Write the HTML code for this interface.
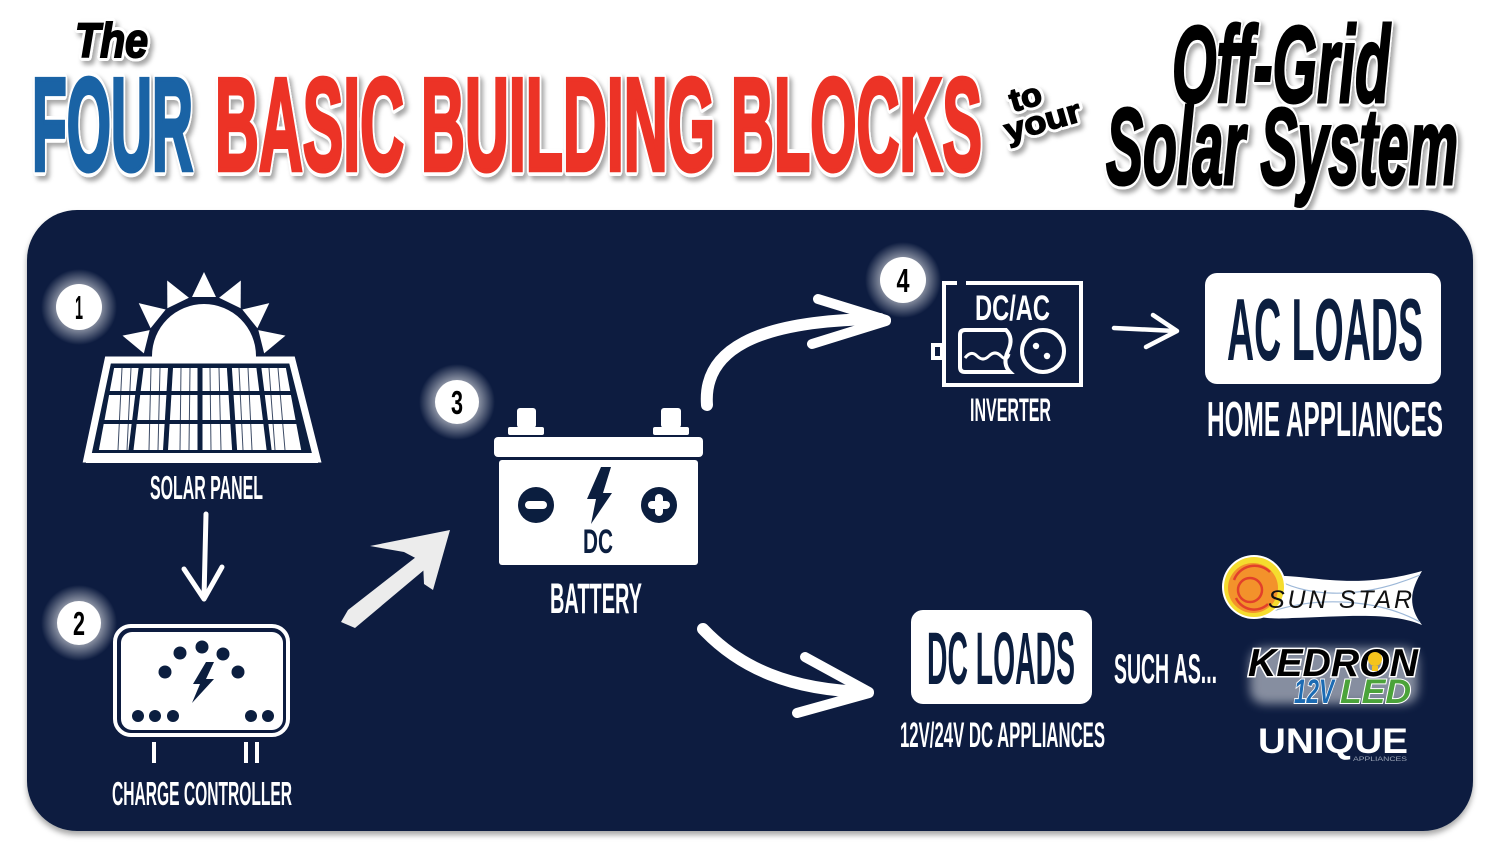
<!DOCTYPE html>
<html>
<head>
<meta charset="utf-8">
<style>
  html,body{margin:0;padding:0;background:#fff;}
  svg{display:block;}
  text{font-family:"Liberation Sans", Arial, sans-serif;}
</style>
</head>
<body>
<svg width="1500" height="859" viewBox="0 0 1500 859" xmlns="http://www.w3.org/2000/svg">
  <defs>
    <filter id="tshadow" x="-10%" y="-20%" width="130%" height="150%">
      <feDropShadow dx="3" dy="4" stdDeviation="2.5" flood-color="#000" flood-opacity="0.35"/>
    </filter>
    <filter id="pshadow" x="-5%" y="-5%" width="110%" height="115%">
      <feDropShadow dx="0" dy="4" stdDeviation="3" flood-color="#000" flood-opacity="0.35"/>
    </filter>
    <filter id="wglow" x="-20%" y="-50%" width="140%" height="200%">
      <feGaussianBlur stdDeviation="5"/>
    </filter>
    <radialGradient id="glow">
      <stop offset="0.5" stop-color="#ffffff" stop-opacity="0.6"/>
      <stop offset="1" stop-color="#ffffff" stop-opacity="0"/>
    </radialGradient>
  </defs>

  <!-- ================= TITLE ================= -->
  <g filter="url(#tshadow)" font-weight="bold">
    <text x="75" y="57" font-size="48" font-style="italic" textLength="73" lengthAdjust="spacingAndGlyphs" fill="#fff" stroke="#fff" stroke-width="8" stroke-linejoin="round">The</text>
    <g fill="#fff" stroke="#fff" stroke-width="12" stroke-linejoin="round" font-size="132">
      <text x="32" y="170" textLength="161" lengthAdjust="spacingAndGlyphs">FOUR</text>
      <text x="215" y="170" textLength="189" lengthAdjust="spacingAndGlyphs">BASIC</text>
      <text x="421" y="170" textLength="294" lengthAdjust="spacingAndGlyphs">BUILDING</text>
      <text x="731" y="170" textLength="251" lengthAdjust="spacingAndGlyphs">BLOCKS</text>
    </g>
    <g fill="#fff" stroke="#fff" stroke-width="9" stroke-linejoin="round" font-size="109" font-style="italic">
      <text x="1172" y="102" textLength="218" lengthAdjust="spacingAndGlyphs">Off-Grid</text>
      <text x="1106" y="184" textLength="352" lengthAdjust="spacingAndGlyphs">Solar System</text>
    </g>
    <g fill="#fff" stroke="#fff" stroke-width="7" stroke-linejoin="round" font-size="32">
      <text transform="translate(1013,112) rotate(-16)" textLength="32" lengthAdjust="spacingAndGlyphs">to</text>
      <text transform="translate(1008,142) rotate(-16)" textLength="78" lengthAdjust="spacingAndGlyphs">your</text>
    </g>
  </g>
  <g font-weight="bold">
    <text x="75" y="57" font-size="48" font-style="italic" textLength="73" lengthAdjust="spacingAndGlyphs" fill="#000" stroke="#000" stroke-width="2">The</text>
    <text x="32" y="170" font-size="132" textLength="161" lengthAdjust="spacingAndGlyphs" fill="#1a63a5" stroke="#1a63a5" stroke-width="4.5">FOUR</text>
    <g fill="#ec3326" stroke="#ec3326" stroke-width="4.5" font-size="132">
      <text x="215" y="170" textLength="189" lengthAdjust="spacingAndGlyphs">BASIC</text>
      <text x="421" y="170" textLength="294" lengthAdjust="spacingAndGlyphs">BUILDING</text>
      <text x="731" y="170" textLength="251" lengthAdjust="spacingAndGlyphs">BLOCKS</text>
    </g>
    <g fill="#000" stroke="#000" stroke-width="3" font-size="109" font-style="italic">
      <text x="1172" y="102" textLength="218" lengthAdjust="spacingAndGlyphs">Off-Grid</text>
      <text x="1106" y="184" textLength="352" lengthAdjust="spacingAndGlyphs">Solar System</text>
    </g>
    <g fill="#000" stroke="#000" stroke-width="1.5" font-size="32">
      <text transform="translate(1013,112) rotate(-16)" textLength="32" lengthAdjust="spacingAndGlyphs">to</text>
      <text transform="translate(1008,142) rotate(-16)" textLength="78" lengthAdjust="spacingAndGlyphs">your</text>
    </g>
  </g>

  <!-- ================= PANEL ================= -->
  <rect x="27" y="210" width="1446" height="621" rx="50" ry="50" fill="#0b1e3f" filter="url(#pshadow)"/>

  <!-- Badges -->
  <g>
    <circle cx="79" cy="307" r="38" fill="url(#glow)"/>
    <circle cx="79" cy="307" r="23" fill="#fff"/>
    <circle cx="79" cy="623" r="38" fill="url(#glow)"/>
    <circle cx="79" cy="623" r="22" fill="#fff"/>
    <circle cx="457" cy="402" r="38" fill="url(#glow)"/>
    <circle cx="457" cy="402" r="22" fill="#fff"/>
    <circle cx="903" cy="280" r="38" fill="url(#glow)"/>
    <circle cx="903" cy="280" r="23" fill="#fff"/>
    <g fill="#000" font-size="33" font-weight="bold" text-anchor="middle">
      <text x="79" y="319" textLength="8" lengthAdjust="spacingAndGlyphs">1</text>
      <text x="79" y="635" textLength="12" lengthAdjust="spacingAndGlyphs">2</text>
      <text x="457" y="414" textLength="12" lengthAdjust="spacingAndGlyphs">3</text>
      <text x="903" y="292" textLength="13" lengthAdjust="spacingAndGlyphs">4</text>
    </g>
  </g>

  <!-- ================= SOLAR PANEL ================= -->
  <g fill="#fff">
    <circle cx="204" cy="356" r="52"/>
    <g transform="translate(204,356)">
      <polygon points="-12,-59 12,-59 0,-84" transform="rotate(-76)"/>
      <polygon points="-12,-59 12,-59 0,-84" transform="rotate(-51)"/>
      <polygon points="-12,-59 12,-59 0,-84" transform="rotate(-26)"/>
      <polygon points="-12,-59 12,-59 0,-84"/>
      <polygon points="-12,-59 12,-59 0,-84" transform="rotate(26)"/>
      <polygon points="-12,-59 12,-59 0,-84" transform="rotate(51)"/>
      <polygon points="-12,-59 12,-59 0,-84" transform="rotate(76)"/>
    </g>
  </g>
  <polygon points="108,360 292,360 317,459 87,459" fill="#0b1e3f" stroke="#fff" stroke-width="7" stroke-linejoin="miter"/>
  <rect x="86" y="453" width="232" height="10" fill="#fff"/>
  <g fill="#fff">
    <polygon points="114.1,368 138.6,368 135.7,391 109.8,391"/>
    <polygon points="143.6,368 168.0,368 166.6,391 140.7,391"/>
    <polygon points="173.0,368 197.5,368 197.5,391 171.6,391"/>
    <polygon points="202.5,368 226.9,368 228.4,391 202.5,391"/>
    <polygon points="231.9,368 256.4,368 259.3,391 233.4,391"/>
    <polygon points="261.4,368 285.9,368 290.2,391 264.3,391"/>
    <polygon points="109.1,395 135.2,395 132.2,420 104.5,420"/>
    <polygon points="140.2,395 166.4,395 164.9,420 137.2,420"/>
    <polygon points="171.4,395 197.5,395 197.5,420 169.9,420"/>
    <polygon points="202.5,395 228.6,395 230.2,420 202.5,420"/>
    <polygon points="233.6,395 259.8,395 262.9,420 235.2,420"/>
    <polygon points="264.8,395 290.9,395 295.6,420 267.9,420"/>
    <polygon points="103.7,424 131.6,424 128.5,450 98.9,450"/>
    <polygon points="136.6,424 164.6,424 163.0,450 133.5,450"/>
    <polygon points="169.6,424 197.5,424 197.5,450 168.0,450"/>
    <polygon points="202.5,424 230.4,424 232.1,450 202.5,450"/>
    <polygon points="235.4,424 263.4,424 266.6,450 237.1,450"/>
    <polygon points="268.4,424 296.3,424 301.2,450 271.6,450"/>
  </g>
  <!-- cell stripes -->
  <g stroke="#0b1e3f" stroke-width="1" opacity="0.8">
    <line x1="122" y1="368" x2="118" y2="450"/><line x1="131" y1="368" x2="127" y2="450"/>
    <line x1="151" y1="368" x2="149" y2="450"/><line x1="160" y1="368" x2="158" y2="450"/>
    <line x1="181" y1="368" x2="180" y2="450"/><line x1="190" y1="368" x2="189" y2="450"/>
    <line x1="210" y1="368" x2="211" y2="450"/><line x1="219" y1="368" x2="221" y2="450"/>
    <line x1="239" y1="368" x2="243" y2="450"/><line x1="248" y1="368" x2="252" y2="450"/>
    <line x1="269" y1="368" x2="275" y2="450"/><line x1="278" y1="368" x2="285" y2="450"/>
  </g>
  <text x="150" y="499" font-size="33" font-weight="bold" fill="#fff" textLength="113" lengthAdjust="spacingAndGlyphs">SOLAR PANEL</text>

  <!-- Down arrow -->
  <g stroke="#fff" stroke-width="5" stroke-linecap="round" stroke-linejoin="round" fill="none">
    <path d="M206,514 L204,598"/>
    <path d="M184,569 L204,599 L222,567"/>
  </g>

  <!-- ================= CHARGE CONTROLLER ================= -->
  <rect x="115" y="626" width="173" height="109" rx="16" fill="none" stroke="#fff" stroke-width="4"/>
  <rect x="121" y="632" width="162" height="98" rx="11" fill="#fff"/>
  <g fill="#0b1e3f">
    <circle cx="165" cy="672" r="6.5"/>
    <circle cx="180" cy="653" r="6.5"/>
    <circle cx="202" cy="647" r="6.5"/>
    <circle cx="223" cy="654" r="6.5"/>
    <circle cx="238" cy="672" r="6.5"/>
    <circle cx="138" cy="716" r="6"/>
    <circle cx="155" cy="716" r="6"/>
    <circle cx="173" cy="716" r="6"/>
    <circle cx="251" cy="716" r="6"/>
    <circle cx="268" cy="716" r="6"/>
    <polygon points="206,662 214,662 206,679 214,679 192,703 200,684 193,684"/>
  </g>
  <g stroke="#fff" stroke-width="4">
    <line x1="154" y1="742" x2="154" y2="763"/>
    <line x1="246" y1="742" x2="246" y2="763"/>
    <line x1="257" y1="742" x2="257" y2="763"/>
  </g>
  <text x="112" y="805" font-size="33" font-weight="bold" fill="#fff" textLength="180" lengthAdjust="spacingAndGlyphs">CHARGE CONTROLLER</text>

  <!-- Diagonal chalk arrow -->
  <g fill="#ececec">
    <path d="M341,622 L348,610 L425,550 L436,560 L355,628 Z"/>
    <path d="M370,546 L450,530 L433,590 L424,584 L423,562 L404,552 Z"/>
  </g>

  <!-- ================= BATTERY ================= -->
  <g fill="#fff">
    <rect x="517" y="408" width="19" height="20" rx="3"/>
    <rect x="508" y="427" width="36" height="8" rx="2"/>
    <rect x="661" y="408" width="20" height="20" rx="3"/>
    <rect x="653" y="427" width="36" height="8" rx="2"/>
    <rect x="494" y="437" width="209" height="20" rx="4"/>
    <rect x="499" y="460" width="199" height="105" rx="3"/>
  </g>
  <g fill="#0b1e3f">
    <circle cx="536" cy="505" r="18"/>
    <circle cx="659" cy="505" r="18"/>
    <polygon points="601,467 611,467 603,493 612,493 591,524 596,499 587,499"/>
  </g>
  <g fill="#fff">
    <rect x="525" y="501" width="22" height="8" rx="4"/>
    <rect x="648" y="501" width="22" height="8" rx="4"/>
    <rect x="655" y="494" width="8" height="22" rx="4"/>
  </g>
  <text x="583" y="553" font-size="34" font-weight="bold" fill="#0b1e3f" textLength="30" lengthAdjust="spacingAndGlyphs">DC</text>
  <text x="550" y="613" font-size="43" font-weight="bold" fill="#fff" textLength="92" lengthAdjust="spacingAndGlyphs">BATTERY</text>

  <!-- Curved arrow to inverter -->
  <g stroke="#fff" fill="none" stroke-linecap="round" stroke-linejoin="round">
    <path d="M707,405 C703,352 752,320 880,319" stroke-width="12"/>
    <path d="M818,299 L886,320" stroke-width="10"/>
    <path d="M812,344 L886,321" stroke-width="10"/>
  </g>

  <!-- ================= INVERTER ================= -->
  <g fill="none" stroke="#fff" stroke-width="4">
    <path d="M957,283 L944,283 L944,385 L1081,385 L1081,283 L966,283"/>
    <rect x="933" y="345" width="9" height="13"/>
    <path d="M965,330 L1006,330 Q1014,338 1008,351 Q1002,364 1010,372 L965,372 Q960,372 960,367 L960,335 Q960,330 965,330 Z" stroke-width="4"/>
    <path d="M965,358 Q971,350 977,356 T989,356 T1001,356 T1009,354" stroke-width="3"/>
    <circle cx="1043" cy="351" r="21"/>
  </g>
  <circle cx="1036" cy="346" r="3.2" fill="#fff"/>
  <circle cx="1047" cy="356" r="3.2" fill="#fff"/>
  <text x="975" y="320" font-size="35" font-weight="bold" fill="#fff" textLength="75" lengthAdjust="spacingAndGlyphs">DC/AC</text>
  <text x="970" y="421" font-size="32" font-weight="bold" fill="#fff" textLength="81" lengthAdjust="spacingAndGlyphs">INVERTER</text>

  <!-- small arrow -->
  <g stroke="#fff" stroke-width="4.5" stroke-linecap="round" stroke-linejoin="round" fill="none">
    <path d="M1114,328 L1175,331"/>
    <path d="M1153,315 L1177,331 L1146,347"/>
  </g>

  <!-- ================= AC LOADS ================= -->
  <rect x="1205" y="273" width="236" height="111" rx="12" fill="#fff"/>
  <text x="1227" y="360" font-size="88" font-weight="bold" fill="#0b1e3f" textLength="196" lengthAdjust="spacingAndGlyphs">AC LOADS</text>
  <text x="1207" y="436" font-size="49" font-weight="bold" fill="#fff" textLength="236" lengthAdjust="spacingAndGlyphs">HOME APPLIANCES</text>

  <!-- DC arrow -->
  <g stroke="#fff" fill="none" stroke-linecap="round" stroke-linejoin="round">
    <path d="M703,629 C740,668 790,690 866,692" stroke-width="12"/>
    <path d="M805,657 L869,692" stroke-width="10"/>
    <path d="M797,713 L869,693" stroke-width="10"/>
  </g>

  <!-- ================= DC LOADS ================= -->
  <rect x="911" y="610" width="181" height="94" rx="12" fill="#fff"/>
  <text x="927" y="684" font-size="74" font-weight="bold" fill="#0b1e3f" textLength="148" lengthAdjust="spacingAndGlyphs">DC LOADS</text>
  <text x="1114" y="683" font-size="42" font-weight="bold" fill="#fff" textLength="103" lengthAdjust="spacingAndGlyphs">SUCH AS...</text>
  <text x="900" y="747" font-size="35" font-weight="bold" fill="#fff" textLength="205" lengthAdjust="spacingAndGlyphs">12V/24V DC APPLIANCES</text>

  <!-- ================= LOGOS ================= -->
  <path d="M1236,598 C1246,566 1290,577 1330,580 C1368,583 1398,578 1422,571 C1412,588 1406,604 1422,625 C1392,612 1350,616 1292,618 C1262,620 1240,616 1236,598 Z" fill="#fff"/>
  <g fill="none" stroke="#9db8d8" stroke-width="1.2">
    <path d="M1262,570 C1300,600 1360,600 1420,575"/>
    <path d="M1270,612 C1320,595 1380,600 1420,622"/>
  </g>
  <circle cx="1254" cy="587" r="32" fill="#fff"/>
  <circle cx="1254" cy="587" r="30" fill="#f5dc2e"/>
  <circle cx="1253" cy="588" r="25" fill="#f3922b"/>
  <g fill="none" stroke="#e2402a" stroke-width="2.5">
    <path d="M1234,580 A22,22 0 0 1 1270,572"/>
    <path d="M1236,598 A20,20 0 0 0 1268,604"/>
    <circle cx="1250" cy="590" r="12"/>
  </g>
  <text x="1268" y="608" font-size="25" font-style="italic" fill="#111" textLength="144" lengthAdjust="spacing">SUN STAR</text>

  <g filter="url(#wglow)" opacity="0.5">
    <rect x="1250" y="648" width="168" height="56" rx="14" fill="#ffffff"/>
  </g>
  <text x="1248" y="676" font-size="39" font-weight="bold" font-style="italic" fill="#000" stroke="#fff" stroke-width="3" paint-order="stroke" textLength="170" lengthAdjust="spacingAndGlyphs">KEDRON</text>
  <circle cx="1375" cy="659" r="7" fill="#f5c41c"/>
  <rect x="1372" y="666" width="6" height="5" fill="#f5c41c"/>
  <text x="1294" y="703" font-size="34" font-weight="bold" font-style="italic" fill="#1c6bb3" stroke="#fff" stroke-width="2" paint-order="stroke" textLength="40" lengthAdjust="spacingAndGlyphs">12V</text>
  <text x="1340" y="703" font-size="34" font-weight="bold" font-style="italic" fill="#4ba33a" stroke="#fff" stroke-width="2" paint-order="stroke" textLength="71" lengthAdjust="spacingAndGlyphs">LED</text>

  <text x="1258" y="753" font-size="35" font-weight="bold" fill="#fff" textLength="150" lengthAdjust="spacingAndGlyphs">UNIQUE</text>
  <text x="1353" y="761" font-size="6.5" fill="#9aa4b5" textLength="54" lengthAdjust="spacingAndGlyphs">APPLIANCES</text>
</svg>
</body>
</html>
